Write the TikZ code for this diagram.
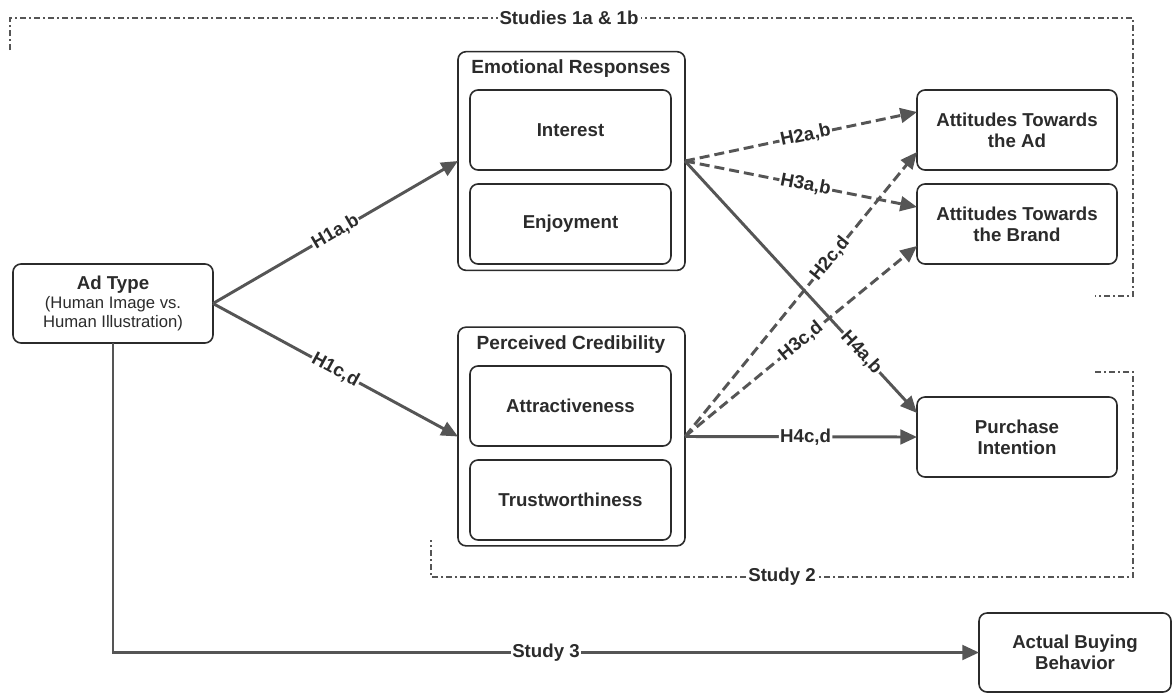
\documentclass[tikz,border=0pt]{standalone}
\usepackage{fontspec}
\setmainfont{Liberation Sans}
\usetikzlibrary{arrows.meta}
\definecolor{ln}{HTML}{555555}
\definecolor{tx}{HTML}{2B2B2B}
\begin{document}
\begin{tikzpicture}[x=0.75pt,y=-0.75pt,
  box/.style={draw=tx, line width=1.2pt, rounded corners=6pt, inner sep=0pt, outer sep=0pt, align=center, text=tx, font=\bfseries\fontsize{14}{16}\selectfont},
  inbox/.style={box, minimum width=150.75pt, minimum height=60pt},
  outbox/.style={box, minimum width=170.25pt, minimum height=164pt},
  sidebox/.style={box, minimum width=150pt, minimum height=60pt},
  ttl/.style={text=tx, font=\bfseries\fontsize{14.3}{16}\selectfont, inner sep=0pt},
  arr/.style={draw=ln, line width=2.2pt, -{Triangle[length=12.5pt,width=11pt]}},
  darr/.style={arr, dash pattern=on 7.5pt off 3.75pt},
  lab/.style={sloped, fill=white, inner sep=1pt, text=tx, font=\bfseries\fontsize{14}{16}\selectfont},
  bnd/.style={draw=ln, line width=1.8pt, dash pattern=on 4.5pt off 2.25pt on 1.5pt off 2.25pt},
  bndlab/.style={fill=white, inner sep=1.5pt, text=tx, font=\bfseries\fontsize{14}{16}\selectfont},
]
\useasboundingbox[fill=white] (0,0) rectangle (1173,693);

% boundaries
\draw[bnd] (10,50) -- (10,18) -- (1133,18) -- (1133,296) -- (1095,296);
\node[bndlab] (s1) at (569,18) {Studies 1a \& 1b};
\draw[bnd] (1095,372) -- (1133,372) -- (1133,577) -- (431,577) -- (431,540);
\node[bndlab] (s2) at (782,577) {Study 2};

% nodes
\node[box, minimum width=150pt, minimum height=59.25pt, font=\fontsize{12.5}{14.5}\selectfont] (adtype) at (113,303.5)
  {{\bfseries\fontsize{14}{16}\selectfont Ad Type}\\(Human Image vs.\\Human Illustration)};

\node[outbox] (emo) at (571.5,161) {};
\node[ttl] (emot) at (571,69) {Emotional Responses};
\node[inbox] (interest) at (570.5,130) {Interest};
\node[inbox] (enjoy) at (570.5,224) {Enjoyment};

\node[outbox] (cred) at (571.5,436.5) {};
\node[ttl] (credt) at (571,345) {Perceived Credibility};
\node[inbox] (attr) at (570.5,406) {Attractiveness};
\node[inbox] (trust) at (570.5,500) {Trustworthiness};

\node[sidebox] (attad) at (1017,130) {Attitudes Towards\\the Ad};
\node[sidebox] (attbr) at (1017,224) {Attitudes Towards\\the Brand};
\node[sidebox] (purch) at (1017,437) {Purchase\\Intention};
\node[box, minimum width=144pt, minimum height=59.25pt] (buy) at (1075,652.5) {Actual Buying\\Behavior};

% connectors
\draw[arr] (adtype.east) -- node[lab]{H1a,b} (emo.west);
\draw[arr] (adtype.east) -- node[lab]{H1c,d} (cred.west);

\draw[darr] (cred.east) -- node[lab,pos=0.625]{H2c,d} ([yshift=-16.5pt]attad.west);
\draw[darr] (cred.east) -- node[lab,pos=0.5]{H3c,d} ([yshift=-16.5pt]attbr.west);
\draw[arr] (emo.east) -- node[lab,pos=0.76]{H4a,b} ([yshift=18pt]purch.west);
\draw[darr] (emo.east) -- node[lab,pos=0.52]{H2a,b} ([yshift=13.5pt]attad.west);
\draw[darr] (emo.east) -- node[lab,pos=0.52]{H3a,b} ([yshift=12.75pt]attbr.west);
\draw[arr] (cred.east) -- node[lab,pos=0.52]{H4c,d} (purch.west);

\draw[arr] (adtype.south) |- node[lab,pos=0.75]{Study 3} (buy.west);
\end{tikzpicture}
\end{document}
